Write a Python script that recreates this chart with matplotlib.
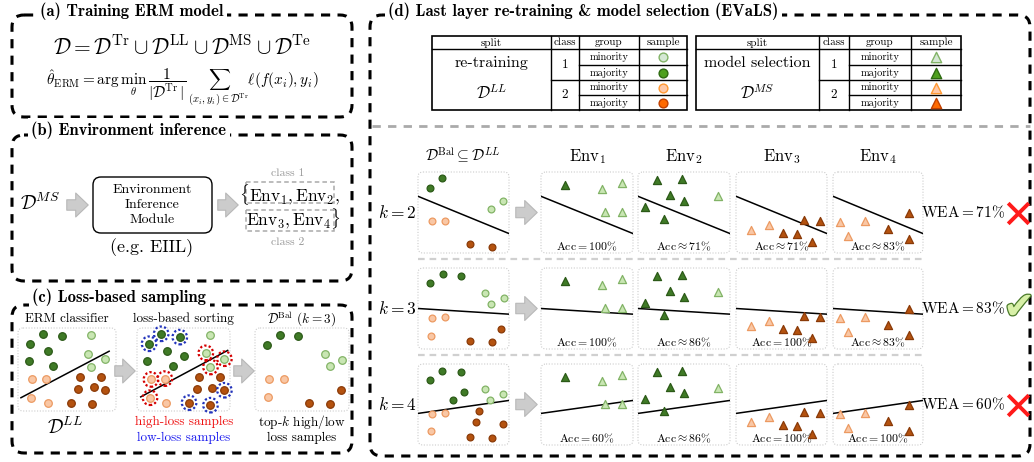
import matplotlib.pyplot as plt
from matplotlib.patches import FancyBboxPatch, FancyArrowPatch, Rectangle
import matplotlib.patheffects as pe

plt.rcParams['mathtext.fontset'] = 'cm'
plt.rcParams['font.family'] = 'cmr10'
plt.rcParams['axes.unicode_minus'] = False

# ---------------- data ----------------
group_names = ['minority', 'majority', 'minority', 'majority']
group_keys = ['min1', 'maj1', 'min2', 'maj2']
class_names = ['1', '2']
split_names = ['re-training', 'model selection']
split_sets = [r'$\mathcal{D}^{LL}$', r'$\mathcal{D}^{MS}$']
split_markers = ['o', '^']

env_names = [r'$\mathrm{Env}_1$', r'$\mathrm{Env}_2$', r'$\mathrm{Env}_3$', r'$\mathrm{Env}_4$']
k_values = [2, 3, 4]
wea_values = [71, 83, 60]
selected = [False, True, False]
acc_labels = [
    [r'$\mathrm{Acc} = 100\%$', r'$\mathrm{Acc} \approx 71\%$', r'$\mathrm{Acc} \approx 71\%$', r'$\mathrm{Acc} \approx 83\%$'],
    [r'$\mathrm{Acc} = 100\%$', r'$\mathrm{Acc} \approx 86\%$', r'$\mathrm{Acc} = 100\%$', r'$\mathrm{Acc} \approx 83\%$'],
    [r'$\mathrm{Acc} = 60\%$', r'$\mathrm{Acc} \approx 86\%$', r'$\mathrm{Acc} = 100\%$', r'$\mathrm{Acc} = 100\%$'],
]
# decision boundary of each row: (y at left, y at right)
boundary_left = [0.70, 0.50, 0.39]
boundary_right = [0.24, 0.43, 0.55]

# balanced retraining sets for k = 2, 3, 4
bal2_maj1 = [(0.13, 0.80), (0.26, 0.92)]
bal2_min1 = [(0.80, 0.54), (0.93, 0.64)]
bal2_min2 = [(0.15, 0.40), (0.30, 0.40)]
bal2_maj2 = [(0.57, 0.11), (0.81, 0.08)]

bal3_maj1 = [(0.13, 0.81), (0.27, 0.92), (0.47, 0.90)]
bal3_min1 = [(0.74, 0.69), (0.94, 0.63), (0.80, 0.55)]
bal3_min2 = [(0.15, 0.38), (0.30, 0.39), (0.14, 0.16)]
bal3_maj2 = [(0.91, 0.25), (0.57, 0.10), (0.81, 0.09)]

bal4_maj1 = [(0.13, 0.80), (0.26, 0.91), (0.47, 0.90), (0.50, 0.66), (0.39, 0.55)]
bal4_min1 = [(0.74, 0.69), (0.93, 0.63), (0.79, 0.55)]
bal4_min2 = [(0.15, 0.38), (0.30, 0.39), (0.14, 0.17)]
bal4_maj2 = [(0.67, 0.42), (0.64, 0.28), (0.93, 0.26), (0.57, 0.10), (0.81, 0.09)]

# model-selection environments
env1_maj1 = [(0.26, 0.84)]
env1_min1 = [(0.66, 0.79), (0.88, 0.87), (0.70, 0.51), (0.88, 0.51)]
env2_maj1 = [(0.21, 0.90), (0.48, 0.91), (0.35, 0.72), (0.50, 0.64), (0.08, 0.57), (0.28, 0.42)]
env2_min1 = [(0.87, 0.70)]
env3_min2 = [(0.17, 0.28), (0.36, 0.35)]
env3_maj2 = [(0.52, 0.25), (0.67, 0.24), (0.75, 0.41), (0.92, 0.39), (0.84, 0.13)]
env4_min2 = [(0.08, 0.38), (0.36, 0.39), (0.17, 0.21)]
env4_maj2 = [(0.61, 0.30), (0.84, 0.49), (0.84, 0.17)]

# (c) loss-based sampling panels
erm_maj1 = [(0.25, 0.93), (0.45, 0.90), (0.12, 0.81), (0.31, 0.72), (0.11, 0.60), (0.36, 0.54)]
erm_min1 = [(0.74, 0.92), (0.71, 0.69), (0.89, 0.63), (0.74, 0.53)]
erm_min2 = [(0.14, 0.38), (0.29, 0.39), (0.13, 0.16), (0.31, 0.10)]
erm_maj2 = [(0.63, 0.41), (0.85, 0.41), (0.61, 0.27), (0.78, 0.29), (0.89, 0.25), (0.54, 0.10), (0.76, 0.08)]
erm_line = [(0.03, 0.93), (0.16, 0.72)]

sort_maj1 = [(0.26, 0.93), (0.46, 0.89), (0.13, 0.81), (0.32, 0.72), (0.11, 0.60), (0.39, 0.54), (0.50, 0.66)]
sort_min1 = [(0.78, 0.91), (0.74, 0.70), (0.94, 0.63), (0.79, 0.53)]
sort_min2 = [(0.15, 0.38), (0.30, 0.39), (0.14, 0.16), (0.31, 0.10)]
sort_maj2 = [(0.67, 0.41), (0.89, 0.41), (0.64, 0.27), (0.81, 0.28), (0.94, 0.25), (0.56, 0.10), (0.79, 0.07)]
sort_high = [(0.74, 0.70), (0.94, 0.63), (0.79, 0.53), (0.15, 0.38), (0.30, 0.39), (0.14, 0.16)]
sort_low = [(0.26, 0.93), (0.46, 0.89), (0.13, 0.81), (0.94, 0.25), (0.56, 0.10), (0.79, 0.07)]
sort_line = [(0.04, 0.975), (0.17, 0.73)]

balc_maj1 = [(0.13, 0.80), (0.27, 0.92), (0.46, 0.90)]
balc_min1 = [(0.74, 0.69), (0.93, 0.62), (0.80, 0.54)]
balc_min2 = [(0.15, 0.38), (0.31, 0.39), (0.14, 0.17)]
balc_maj2 = [(0.92, 0.25), (0.57, 0.10), (0.80, 0.08)]

# ---------------- styles / layout ----------------
W, H = 1034, 462
pt_colors = {'maj1': ('#3f7a26', '#2c5a18'), 'min1': ('#c9e6b3', '#82b366'),
             'min2': ('#f9c7a5', '#ec9a62'), 'maj2': ('#b4520f', '#8a3a08')}
tab_colors = {'min1': ('#d5e8d4', '#82b366'), 'maj1': ('#4ea01e', '#2d6a10'),
              'min2': ('#ffc9a8', '#ff9933'), 'maj2': ('#ff6a00', '#c04000')}
DASH = (0, (3, 2.4))

fig = plt.figure(figsize=(W / 100, H / 100), dpi=100)
ax = fig.add_axes([0, 0, 1, 1])
ax.set_xlim(0, W)
ax.set_ylim(H, 0)
ax.axis('off')


def big_box(x0, y0, x1, y1, title, tx, ty):
    ax.add_patch(FancyBboxPatch((x0, y0), x1 - x0, y1 - y0, boxstyle='round,pad=0,rounding_size=12',
                                fc='none', ec='black', lw=2.2, ls=DASH, zorder=2))
    ax.text(tx, ty, title, fontfamily='cmb10', fontsize=12, ha='left', va='center', zorder=3,
            bbox=dict(fc='white', ec='none', pad=2.5))


def panel(x0, y0, w, h):
    ax.add_patch(FancyBboxPatch((x0, y0), w, h, boxstyle='round,pad=0,rounding_size=5',
                                fc='white', ec='#cccccc', lw=0.8, ls=(0, (1, 1.5)), zorder=1))
    a = fig.add_axes([x0 / W, 1 - (y0 + h) / H, w / W, h / H])
    a.set_xlim(0, 1)
    a.set_ylim(0, 1)
    a.axis('off')
    return a


def dots(a, pts, key, marker='o', s=24):
    fc, ec = pt_colors[key]
    a.scatter([p[0] for p in pts], [p[1] for p in pts], marker=marker, s=s, c=fc,
              edgecolors=ec, linewidths=0.9, clip_on=False, zorder=3)


def arrow(x0, x1, y):
    ax.add_patch(FancyArrowPatch((x0, y), (x1, y), arrowstyle='simple,head_length=0.6,head_width=1.15,tail_width=0.5',
                                 mutation_scale=15, fc='#cccccc', ec='#b8b8b8', lw=0.8, zorder=2))


# ---------------- (a) ----------------
big_box(12, 15, 352, 117, '(a) Training ERM model', 40, 11)
ax.text(182, 47, r'$\mathcal{D} = \mathcal{D}^{\mathrm{Tr}} \cup \mathcal{D}^{\mathrm{LL}} \cup \mathcal{D}^{\mathrm{MS}} \cup \mathcal{D}^{\mathrm{Te}}$',
        fontsize=15.5, ha='center', va='center')
ax.text(182, 88, r'$\hat{\theta}_{\mathrm{ERM}} = \arg\min_{\theta}\, \dfrac{1}{|\mathcal{D}^{\mathrm{Tr}}|}\, \sum_{(x_i, y_i) \in \mathcal{D}^{\mathrm{Tr}}} \ell(f(x_i), y_i)$',
        fontsize=11, ha='center', va='center')

# ---------------- (b) ----------------
big_box(12, 135, 352, 281, '(b) Environment inference', 31, 130)
ax.text(40, 203, r'$\mathcal{D}^{MS}$', fontsize=14, ha='center', va='center')
arrow(64, 91, 205)
ax.add_patch(FancyBboxPatch((93, 177), 119, 56, boxstyle='round,pad=0,rounding_size=8',
                            fc='white', ec='black', lw=1.0, zorder=2))
for i, word in enumerate(['Environment', 'Inference', 'Module']):
    ax.text(152, 190 + 15 * i, word, fontsize=10, ha='center', va='center', zorder=3)
ax.text(152, 248, '(e.g. EIIL)', fontsize=13, ha='center', va='center')
arrow(215, 241, 205)
ax.add_patch(Rectangle((246, 182), 88, 21, fc='none', ec='#aaaaaa', lw=1.1, ls=(0, (3, 2))))
ax.add_patch(Rectangle((246, 210), 88, 21, fc='none', ec='#aaaaaa', lw=1.1, ls=(0, (3, 2))))
ax.text(239, 195, r'$\{\mathrm{Env}_1, \mathrm{Env}_2,$', fontsize=12.5, ha='left', va='center')
ax.text(246, 219, r'$\mathrm{Env}_3, \mathrm{Env}_4\}$', fontsize=12.5, ha='left', va='center')
ax.text(288, 173, 'class 1', fontsize=8.5, color='#999999', ha='center', va='center')
ax.text(288, 242, 'class 2', fontsize=8.5, color='#999999', ha='center', va='center')

# ---------------- (c) ----------------
big_box(12, 305, 352, 453, '(c) Loss-based sampling', 32, 297)
c_left = [18, 137, 255]
c_right = [116, 230, 349]
c_top, c_bot = 328, 411
c_titles = ['ERM classifier', 'loss-based sorting', r'$\mathcal{D}^{\mathrm{Bal}}$ $(k=3)$']
for x0, x1, t in zip(c_left, c_right, c_titles):
    ax.text((x0 + x1) / 2, 319, t, fontsize=9.5, ha='center', va='center')

pa = panel(c_left[0], c_top, c_right[0] - c_left[0], c_bot - c_top)
pa.plot(erm_line[0], erm_line[1], color='black', lw=1.1, zorder=2)
for pts, key in [(erm_maj1, 'maj1'), (erm_min1, 'min1'), (erm_min2, 'min2'), (erm_maj2, 'maj2')]:
    dots(pa, pts, key, s=30)

pb = panel(c_left[1], c_top, c_right[1] - c_left[1], c_bot - c_top)
pb.plot(sort_line[0], sort_line[1], color='black', lw=1.1, zorder=2)
for pts, key in [(sort_maj1, 'maj1'), (sort_min1, 'min1'), (sort_min2, 'min2'), (sort_maj2, 'maj2')]:
    dots(pb, pts, key, s=30)
for pts, col in [(sort_high, '#d40000'), (sort_low, '#2233bb')]:
    pb.scatter([p[0] for p in pts], [p[1] for p in pts], s=110, facecolors='none', edgecolors=col,
               linewidths=1.6, linestyle=(0, (1, 1)), clip_on=False, zorder=4)

pc = panel(c_left[2], c_top, c_right[2] - c_left[2], c_bot - c_top)
for pts, key in [(balc_maj1, 'maj1'), (balc_min1, 'min1'), (balc_min2, 'min2'), (balc_maj2, 'maj2')]:
    dots(pc, pts, key, s=30)

arrow(112, 138, 371)
arrow(231, 257, 371)
ax.text(65, 427, r'$\mathcal{D}^{LL}$', fontsize=14, ha='center', va='center')
ax.text(184, 422, 'high-loss samples', fontsize=9.5, color='#ee1111', ha='center', va='center')
ax.text(184, 438, 'low-loss samples', fontsize=9.5, color='#1a1aee', ha='center', va='center')
ax.text(302, 422, r'top-$k$ high/low', fontsize=9.5, ha='center', va='center')
ax.text(302, 438, 'loss samples', fontsize=9.5, ha='center', va='center')

# ---------------- (d) ----------------
big_box(370, 15, 1030, 456, '(d) Last layer re-training & model selection (EVaLS)', 388, 11)

tab_x = [[432, 551, 579, 639, 687], [696, 819, 849, 911, 961]]
row_y = [36, 49, 65, 80, 95, 110]
for ti, xs in enumerate(tab_x):
    lw = 1.0
    ax.add_patch(Rectangle((xs[0], row_y[0]), xs[-1] - xs[0], row_y[-1] - row_y[0], fc='white', ec='black', lw=1.2))
    for x in xs[1:-1]:
        ax.plot([x, x], [row_y[0], row_y[-1]], color='black', lw=lw)
    ax.plot([xs[0], xs[-1]], [row_y[1], row_y[1]], color='black', lw=lw)
    ax.plot([xs[1], xs[-1]], [row_y[3], row_y[3]], color='black', lw=lw)
    for r in (2, 4):
        ax.plot([xs[2], xs[-1]], [row_y[r], row_y[r]], color='black', lw=lw)
    for j, head in enumerate(['split', 'class', 'group', 'sample']):
        ax.text((xs[j] + xs[j + 1]) / 2, (row_y[0] + row_y[1]) / 2, head, fontsize=8, ha='center', va='center')
    ax.text((xs[0] + xs[1]) / 2, 63, split_names[ti], fontsize=11.5, ha='center', va='center')
    ax.text((xs[0] + xs[1]) / 2, 93, split_sets[ti], fontsize=12, ha='center', va='center')
    for c, name in enumerate(class_names):
        ax.text((xs[1] + xs[2]) / 2, (row_y[1 + 2 * c] + row_y[3 + 2 * c]) / 2, name, fontsize=9.5,
                ha='center', va='center')
    for g, (gname, key) in enumerate(zip(group_names, group_keys)):
        yc = (row_y[g + 1] + row_y[g + 2]) / 2
        ax.text((xs[2] + xs[3]) / 2, yc, gname, fontsize=7.5, ha='center', va='center')
        fc, ec = tab_colors[key]
        ax.scatter([(xs[3] + xs[4]) / 2], [yc], marker=split_markers[ti], s=40 if ti == 0 else 55,
                   c=fc, edgecolors=ec, linewidths=1.0, zorder=3)

ax.plot([372, 1030], [126, 126], color='#aaaaaa', lw=2.0, ls=(0, (3, 2.6)))

d_left = [418, 541, 638, 736, 833]
d_width = [91, 92, 92, 91, 90]
row_top = [172, 268, 364]
row_h = 81
ax.text(463, 155, r'$\mathcal{D}^{\mathrm{Bal}} \subseteq \mathcal{D}^{LL}$', fontsize=11, ha='center', va='center')
for e, name in enumerate(env_names):
    ax.text(d_left[e + 1] + d_width[e + 1] / 2, 157, name, fontsize=12, ha='center', va='center')

bal_sets = [(bal2_maj1, bal2_min1, bal2_min2, bal2_maj2),
            (bal3_maj1, bal3_min1, bal3_min2, bal3_maj2),
            (bal4_maj1, bal4_min1, bal4_min2, bal4_maj2)]
env_sets = [[(env1_maj1, 'maj1'), (env1_min1, 'min1')],
            [(env2_maj1, 'maj1'), (env2_min1, 'min1')],
            [(env3_min2, 'min2'), (env3_maj2, 'maj2')],
            [(env4_min2, 'min2'), (env4_maj2, 'maj2')]]

for r, k in enumerate(k_values):
    top = row_top[r]
    yc = top + row_h / 2
    ax.text(397, yc, r'$k = %d$' % k, fontsize=12.5, ha='center', va='center')
    pbal = panel(d_left[0], top, d_width[0], row_h)
    pbal.plot([0, 1], [boundary_left[r], boundary_right[r]], color='black', lw=1.1, zorder=2)
    for pts, key in zip(bal_sets[r], ['maj1', 'min1', 'min2', 'maj2']):
        dots(pbal, pts, key, s=24)
    arrow(513, 540, yc)
    for e in range(4):
        pe_ax = panel(d_left[e + 1], top, d_width[e + 1], row_h)
        pe_ax.plot([0, 1], [boundary_left[r], boundary_right[r]], color='black', lw=1.1, zorder=2)
        for pts, key in env_sets[e]:
            dots(pe_ax, pts, key, marker='^', s=34)
        pe_ax.text(0.5, 0.08, acc_labels[r][e], fontsize=8.5, ha='center', va='center', zorder=2)
    ax.text(963, yc, r'$\mathrm{WEA} = %d\%%$' % wea_values[r], fontsize=11, ha='center', va='center')
    if selected[r]:
        ax.text(1019, yc, '\u2714', fontfamily='DejaVu Sans', fontsize=27, color='#d8f0a8',
                ha='center', va='center',
                path_effects=[pe.Stroke(linewidth=1.8, foreground='#4a7a2a'), pe.Normal()])
    else:
        ax.scatter([1018], [yc], marker='x', s=220, c='#ff1a1a', linewidths=2.8, zorder=3)
    if r < len(k_values) - 1:
        ysep = top + row_h + 6
        ax.plot([418, 923], [ysep, ysep], color='#d0d0d0', lw=1.6, ls=(0, (3, 2.2)))

fig.savefig('out.png', dpi=100)
